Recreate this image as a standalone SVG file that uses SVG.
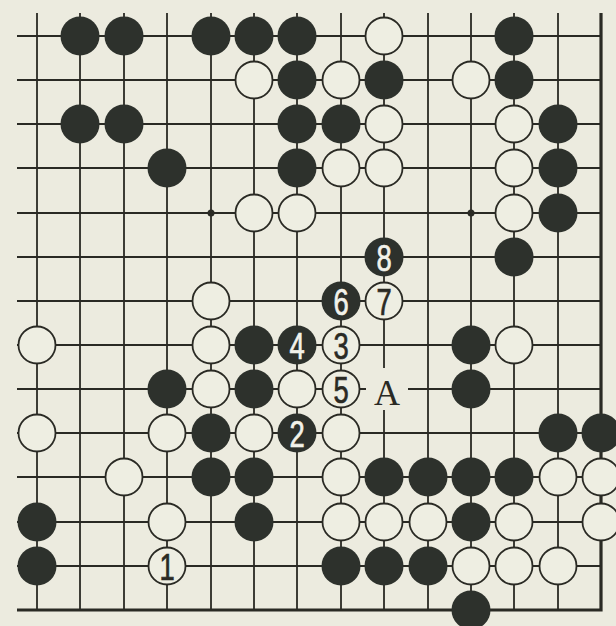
<svg xmlns="http://www.w3.org/2000/svg" width="616" height="626" viewBox="0 0 616 626">
<style>
.bg{fill:#ecebdf}
.ln{stroke:#2a2a24;stroke-width:1.8;fill:none}
.edge{stroke:#2a2a24;stroke-width:3.2;fill:none}
.b{fill:#2d312c}
.w{fill:#eeeee2;stroke:#2a2a24;stroke-width:1.8}
.nb{font-family:"Liberation Sans",Arial,sans-serif;font-size:37px;fill:#f2f2ea;stroke:#f2f2ea;stroke-width:0.7;text-anchor:middle}
.nw{font-family:"Liberation Sans",Arial,sans-serif;font-size:37px;fill:#2a2a24;stroke:#2a2a24;stroke-width:0.7;text-anchor:middle}
.lbl{font-family:"Liberation Serif","Times New Roman",serif;font-size:36px;fill:#2a2a24;text-anchor:middle}
</style>
<defs>
<circle id="B" r="19.5" class="b"/>
<circle id="W" r="18.5" class="w"/>
</defs>
<rect class="bg" x="0" y="0" width="616" height="626"/>
<g id="connectors">
<path class="ln" d="M17 36H601M17 80H601M17 124H601M17 168H601M17 213H601M17 257H601M17 301H601M17 345H601M17 389H601M17 433H601M17 477H601M17 522H601M17 566H601"/>
<path class="ln" d="M37 13V610M80 13V610M124 13V610M167 13V610M211 13V610M254 13V610M297 13V610M341 13V610M384 13V610M428 13V610M471 13V610M514 13V610M558 13V610"/>
<path class="edge" d="M17 610H601M601 13V611.5"/>
<circle cx="211" cy="213" r="3.5" fill="#2a2a24"/>
<circle cx="471" cy="213" r="3.5" fill="#2a2a24"/>
</g>
<g id="stones-black">
<use href="#B" x="80" y="36"/><use href="#B" x="124" y="36"/><use href="#B" x="211" y="36"/><use href="#B" x="254" y="36"/><use href="#B" x="297" y="36"/><use href="#B" x="514" y="36"/>
<use href="#B" x="297" y="80"/><use href="#B" x="384" y="80"/><use href="#B" x="514" y="80"/>
<use href="#B" x="80" y="124"/><use href="#B" x="124" y="124"/><use href="#B" x="297" y="124"/><use href="#B" x="341" y="124"/><use href="#B" x="558" y="124"/>
<use href="#B" x="167" y="168"/><use href="#B" x="297" y="168"/><use href="#B" x="558" y="168"/>
<use href="#B" x="558" y="213"/>
<use href="#B" x="514" y="257"/>
<use href="#B" x="254" y="345"/><use href="#B" x="471" y="345"/>
<use href="#B" x="167" y="389"/><use href="#B" x="254" y="389"/><use href="#B" x="471" y="389"/>
<use href="#B" x="211" y="433"/><use href="#B" x="558" y="433"/><use href="#B" x="601" y="433"/>
<use href="#B" x="211" y="477"/><use href="#B" x="254" y="477"/><use href="#B" x="384" y="477"/><use href="#B" x="428" y="477"/><use href="#B" x="471" y="477"/><use href="#B" x="514" y="477"/>
<use href="#B" x="37" y="522"/><use href="#B" x="254" y="522"/><use href="#B" x="471" y="522"/>
<use href="#B" x="37" y="566"/><use href="#B" x="341" y="566"/><use href="#B" x="384" y="566"/><use href="#B" x="428" y="566"/>
<use href="#B" x="471" y="610"/>
</g>
<g id="stones-white">
<use href="#W" x="384" y="36"/>
<use href="#W" x="254" y="80"/><use href="#W" x="341" y="80"/><use href="#W" x="471" y="80"/>
<use href="#W" x="384" y="124"/><use href="#W" x="514" y="124"/>
<use href="#W" x="341" y="168"/><use href="#W" x="384" y="168"/><use href="#W" x="514" y="168"/>
<use href="#W" x="254" y="213"/><use href="#W" x="297" y="213"/><use href="#W" x="514" y="213"/>
<use href="#W" x="211" y="301"/>
<use href="#W" x="37" y="345"/><use href="#W" x="211" y="345"/><use href="#W" x="514" y="345"/>
<use href="#W" x="211" y="389"/><use href="#W" x="297" y="389"/>
<use href="#W" x="37" y="433"/><use href="#W" x="167" y="433"/><use href="#W" x="254" y="433"/><use href="#W" x="341" y="433"/>
<use href="#W" x="124" y="477"/><use href="#W" x="341" y="477"/><use href="#W" x="558" y="477"/><use href="#W" x="601" y="477"/>
<use href="#W" x="167" y="522"/><use href="#W" x="341" y="522"/><use href="#W" x="384" y="522"/><use href="#W" x="428" y="522"/><use href="#W" x="514" y="522"/><use href="#W" x="601" y="522"/>
<use href="#W" x="471" y="566"/><use href="#W" x="514" y="566"/><use href="#W" x="558" y="566"/>
</g>
<g id="move1"><use href="#W" x="167" y="566"/><text class="nw" transform="translate(167 579.5) scale(0.74 1)">1</text></g>
<g id="move2"><use href="#B" x="297" y="433"/><text class="nb" transform="translate(297 446.5) scale(0.74 1)">2</text></g>
<g id="move3"><use href="#W" x="341" y="345"/><text class="nw" transform="translate(341 358.5) scale(0.74 1)">3</text></g>
<g id="move4"><use href="#B" x="297" y="345"/><text class="nb" transform="translate(297 358.5) scale(0.74 1)">4</text></g>
<g id="move5"><use href="#W" x="341" y="389"/><text class="nw" transform="translate(341 402.5) scale(0.74 1)">5</text></g>
<g id="move6"><use href="#B" x="341" y="301"/><text class="nb" transform="translate(341 314.5) scale(0.74 1)">6</text></g>
<g id="move7"><use href="#W" x="384" y="301"/><text class="nw" transform="translate(384 314.5) scale(0.74 1)">7</text></g>
<g id="move8"><use href="#B" x="384" y="257"/><text class="nb" transform="translate(384 270.5) scale(0.74 1)">8</text></g>
<g id="labelA"><rect class="bg" x="366" y="368" width="42" height="42"/><text class="lbl" x="387" y="405">A</text></g>
</svg>
